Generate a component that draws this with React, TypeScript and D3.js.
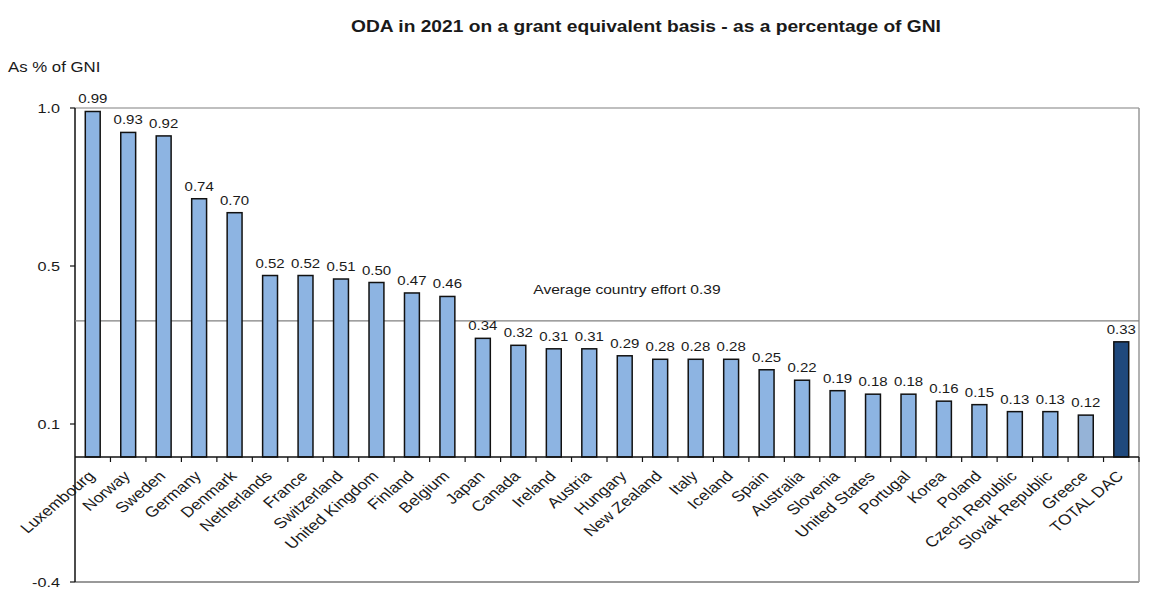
import * as d3 from "d3";

const countries = [
  "Luxembourg", "Norway", "Sweden", "Germany", "Denmark", "Netherlands",
  "France", "Switzerland", "United Kingdom", "Finland", "Belgium", "Japan",
  "Canada", "Ireland", "Austria", "Hungary", "New Zealand", "Italy",
  "Iceland", "Spain", "Australia", "Slovenia", "United States", "Portugal",
  "Korea", "Poland", "Czech Republic", "Slovak Republic", "Greece", "TOTAL DAC",
];

const odaValues = [
  0.99, 0.93, 0.92, 0.74, 0.7, 0.52, 0.52, 0.51, 0.5, 0.47, 0.46, 0.34,
  0.32, 0.31, 0.31, 0.29, 0.28, 0.28, 0.28, 0.25, 0.22, 0.19, 0.18, 0.18,
  0.16, 0.15, 0.13, 0.13, 0.12, 0.33,
];

const yTickLabels = ["1.0", "0.5", "0.1", "-0.4"];

const averageEffort = 0.39;

const W = 1155;
const H = 597;
const left = 75;
const right = 1139;
const top = 108;
const baseline = 457;
const bottom = 582;
// the picture is a bit wider than tall, so text is stretched sideways
const sx = 1.2;

const font = "'Liberation Sans', Arial, sans-serif";

function barColor(name: string) {
  if (name === "TOTAL DAC") return "#1F497D";
  if (name === "Greece") return "#95B3D7";
  return "#8DB4E2";
}

function Txt({ x, y, children, anchor = "start", size = 12, weight = "normal", rotate = 0 }: any) {
  return (
    <text
      transform={`translate(${x},${y}) scale(${sx},1) rotate(${rotate})`}
      textAnchor={anchor}
      fontSize={size}
      fontWeight={weight}
      fill="#1a1a1a"
    >
      {children}
    </text>
  );
}

export default function App() {
  const x = d3.scaleBand<string>().domain(countries).range([left, right]).paddingInner(0.58).paddingOuter(0.29);
  const y = d3.scaleLinear().domain([0, 1]).range([baseline, top]);
  const yAxis = d3.scalePoint<string>().domain(yTickLabels).range([top, bottom]);
  const step = (right - left) / countries.length;

  return (
    <svg width={W} height={H} style={{ position: "absolute", left: 0, top: 0 }} fontFamily={font}>
      <rect width={W} height={H} fill="#fff" />
      <Txt x={646} y={32} anchor="middle" size={16} weight="bold">
        ODA in 2021 on a grant equivalent basis - as a percentage of GNI
      </Txt>
      <Txt x={8} y={72} size={14}>As % of GNI</Txt>

      {/* frame */}
      <line x1={left} x2={right} y1={top} y2={top} stroke="#808080" strokeWidth={1.2} />
      <line x1={right} x2={right} y1={top} y2={bottom} stroke="#999" strokeWidth={1.5} />
      <line x1={left} x2={right} y1={bottom} y2={bottom} stroke="#999" strokeWidth={1.8} />
      <line x1={left} x2={left} y1={top} y2={bottom} stroke="#111" strokeWidth={1.5} />

      {yTickLabels.map((t) => (
        <g key={t}>
          <line x1={left - 5} x2={left} y1={yAxis(t)} y2={yAxis(t)} stroke="#111" strokeWidth={1.2} />
          <Txt x={left - 15} y={(yAxis(t) ?? 0) + 5} anchor="end" size={13.5}>{t}</Txt>
        </g>
      ))}

      {/* average line */}
      <line x1={left} x2={right} y1={y(averageEffort)} y2={y(averageEffort)} stroke="#808080" strokeWidth={1.2} />
      <Txt x={627} y={y(averageEffort) - 27} anchor="middle" size={13}>
        Average country effort {averageEffort.toFixed(2)}
      </Txt>

      {countries.map((c, i) => {
        const bx = x(c) ?? 0;
        const v = odaValues[i];
        return (
          <g key={c}>
            <rect x={bx} y={y(v)} width={x.bandwidth()} height={baseline - y(v)} fill={barColor(c)} stroke="#111" strokeWidth={1.5} />
            <Txt x={bx + x.bandwidth() / 2} y={y(v) - 8} anchor="middle" size={12.5}>
              {v.toFixed(2)}
            </Txt>
          </g>
        );
      })}

      {/* category axis */}
      <line x1={left} x2={right} y1={baseline} y2={baseline} stroke="#111" strokeWidth={1.5} />
      {d3.range(1, countries.length + 1).map((k) => (
        <line key={k} x1={left + k * step} x2={left + k * step} y1={baseline} y2={baseline + 5} stroke="#111" strokeWidth={1.2} />
      ))}
      {countries.map((c) => (
        <Txt key={c} x={(x(c) ?? 0) + x.bandwidth() / 2 + 3} y={baseline + 20} anchor="end" size={14.5} rotate={-45}>
          {c}
        </Txt>
      ))}
    </svg>
  );
}
